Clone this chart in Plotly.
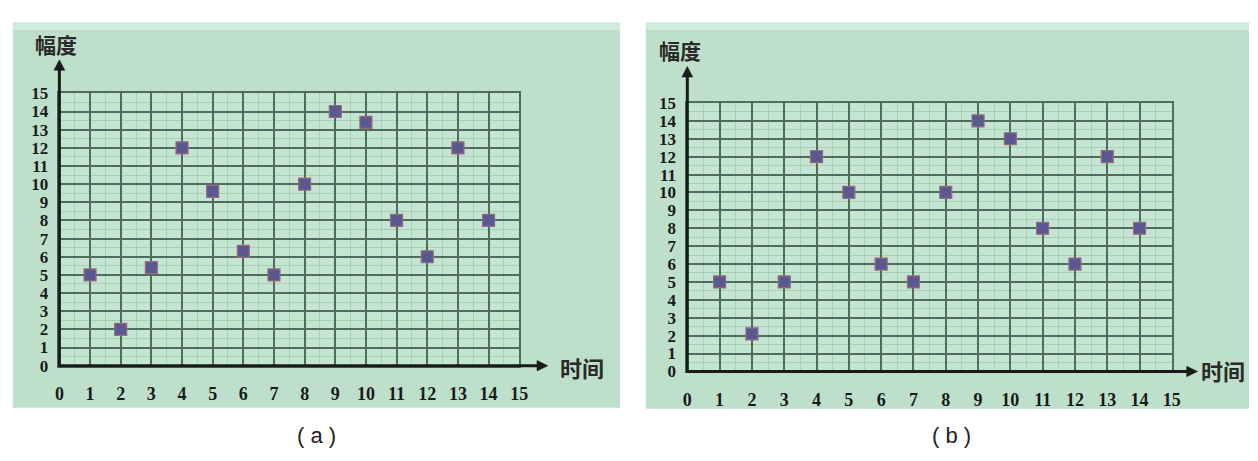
import plotly.graph_objects as go

# Sample index (时间) and amplitude (幅度) for the two panels
time_idx = list(range(1, 15))
amp_a = [5, 2, 5.4, 12, 9.6, 6.3, 5, 10, 14, 13.4, 8, 6, 12, 8]
amp_b = [5, 2.1, 5, 12, 10, 6, 5, 10, 14, 13, 8, 6, 12, 8]
tick_vals = list(range(0, 16))
tick_text = [str(v) for v in tick_vals]

W, H = 1258, 461


def px(x):
    return x / W


def py(y):
    return 1 - y / H


# panel geometry in pixels: background box, plot box (x0, x15, y0, y15)
panels = [
    dict(bg=(8, 14, 622, 416), x0=55, x15=520, y0=372, y15=88,
         ytip=53, xtip=549, ylab=(52, 36), xlab=(583, 373), cap=(315, 445), cap_text="( a )"),
    dict(bg=(648, 14, 1258, 417), x0=690, x15=1180, y0=378, y15=98,
         ytip=60, xtip=1206, ylab=(683, 43), xlab=(1232, 377), cap=(957, 445), cap_text="( b )"),
]

grid_major = "#4f6c5c"
grid_minor = "#a8ceb6"
bg_green = "#bee0cb"
plot_green = "#c4e5d1"
marker_fill = "#5a5891"
marker_edge = "#9a6a80"
ink = "#1a1a1a"

fig = go.Figure()
shapes = []
annotations = []

for i, (p, amp) in enumerate(zip(panels, [amp_a, amp_b])):
    n = "" if i == 0 else str(i + 1)
    fig.add_trace(go.Scatter(
        x=time_idx, y=amp, mode="markers",
        xaxis="x" + n, yaxis="y" + n,
        marker=dict(symbol="square", size=12, color=marker_fill,
                    line=dict(color=marker_edge, width=1.2)),
        showlegend=False, hoverinfo="x+y",
    ))

    axis_common = dict(
        range=[0, 15], tickvals=tick_vals, ticktext=tick_text,
        showgrid=True, gridcolor=grid_major, gridwidth=1.6,
        zeroline=False, showline=True, mirror=True,
        linecolor=grid_major, linewidth=1.6, ticks="",
        minor=dict(dtick=0.5, showgrid=True, gridcolor=grid_minor, gridwidth=1),
        fixedrange=True,
    )
    fig.layout["xaxis" + n] = dict(
        axis_common, anchor="y" + n,
        domain=[px(p["x0"]), px(p["x15"])],
        ticklabelstandoff=11,
        tickfont=dict(family="Liberation Serif", size=18, color=ink, weight="bold"),
    )
    fig.layout["yaxis" + n] = dict(
        axis_common, anchor="x" + n,
        domain=[py(p["y0"]), py(p["y15"])],
        ticklabelstandoff=6,
        tickfont=dict(family="Liberation Serif", size=17, color=ink, weight="bold"),
    )

    # panel backgrounds
    x1, y1, x2, y2 = p["bg"]
    shapes.append(dict(type="rect", xref="paper", yref="paper", layer="below",
                       x0=px(x1), x1=px(x2), y0=py(y2), y1=py(y1),
                       fillcolor=bg_green, line=dict(width=0)))
    shapes.append(dict(type="rect", xref="paper", yref="paper", layer="below",
                       x0=px(x1), x1=px(x2), y0=py(y1 + 8), y1=py(y1),
                       fillcolor="#d3ebdc", line=dict(width=0)))
    shapes.append(dict(type="rect", xref="paper", yref="paper", layer="below",
                       x0=px(p["x0"]), x1=px(p["x15"]), y0=py(p["y0"]), y1=py(p["y15"]),
                       fillcolor=plot_green, line=dict(width=0)))

    # axis lines with arrowheads
    shapes.append(dict(type="line", xref="paper", yref="paper",
                       x0=px(p["x0"]), x1=px(p["x0"]), y0=py(p["y0"] + 1), y1=py(p["ytip"] + 8),
                       line=dict(color=ink, width=3)))
    shapes.append(dict(type="line", xref="paper", yref="paper",
                       x0=px(p["x0"] - 1), x1=px(p["xtip"] - 8), y0=py(p["y0"]), y1=py(p["y0"]),
                       line=dict(color=ink, width=3)))
    xt, yt = p["x0"], p["ytip"]
    shapes.append(dict(type="path", xref="paper", yref="paper",
                       path=f"M {px(xt)} {py(yt)} L {px(xt - 5.5)} {py(yt + 11)} L {px(xt + 5.5)} {py(yt + 11)} Z",
                       fillcolor=ink, line=dict(color=ink, width=0.5)))
    xt, yt = p["xtip"], p["y0"]
    shapes.append(dict(type="path", xref="paper", yref="paper",
                       path=f"M {px(xt)} {py(yt)} L {px(xt - 11)} {py(yt - 5.5)} L {px(xt - 11)} {py(yt + 5.5)} Z",
                       fillcolor=ink, line=dict(color=ink, width=0.5)))

    # axis titles and panel captions
    annotations.append(dict(text="<b>幅度</b>", x=px(p["ylab"][0]), y=py(p["ylab"][1]),
                            xref="paper", yref="paper", showarrow=False,
                            xanchor="center", yanchor="middle",
                            font=dict(family="Noto Sans CJK SC", size=21, color="#2a2a2a")))
    annotations.append(dict(text="<b>时间</b>", x=px(p["xlab"][0]), y=py(p["xlab"][1]),
                            xref="paper", yref="paper", showarrow=False,
                            xanchor="center", yanchor="middle",
                            font=dict(family="Noto Sans CJK SC", size=22, color="#2a2a2a")))
    annotations.append(dict(text=p["cap_text"], x=px(p["cap"][0]), y=py(p["cap"][1]),
                            xref="paper", yref="paper", showarrow=False,
                            xanchor="center", yanchor="middle",
                            font=dict(family="Liberation Sans", size=22, color="#222222")))

fig.update_layout(
    width=W, height=H,
    margin=dict(l=0, r=0, t=0, b=0),
    paper_bgcolor="white",
    plot_bgcolor="rgba(0,0,0,0)",
    shapes=shapes,
    annotations=annotations,
    showlegend=False,
)

fig.write_html("out.html")
